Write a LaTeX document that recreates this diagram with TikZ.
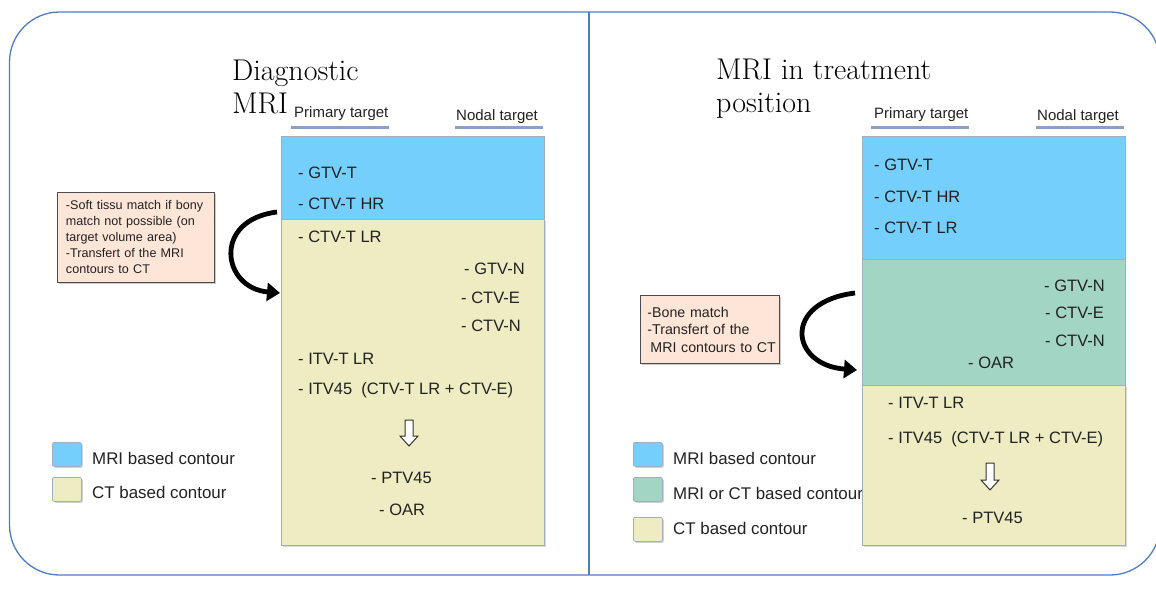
\documentclass[tikz,border=0pt]{standalone}
\usepackage{fontspec}
\newfontfamily\arial{Liberation Sans}
\usetikzlibrary{arrows.meta,shadows}
\definecolor{mriblue}{RGB}{117,207,252}
\definecolor{ctyellow}{RGB}{238,236,194}
\definecolor{mixgreen}{RGB}{163,213,196}
\definecolor{peach}{RGB}{253,230,216}
\definecolor{framecol}{RGB}{79,125,192}
\definecolor{regionborder}{RGB}{160,175,192}
\definecolor{ulcol}{RGB}{140,159,196}
\definecolor{txt}{RGB}{34,34,34}
\tikzset{
  region/.style={draw=regionborder, line width=0.8pt, anchor=north west, inner sep=0, minimum width=263pt},
  item/.style={anchor=base west, inner sep=0, text=txt, font=\arial\fontsize{16.5}{20}\selectfont},
  legtext/.style={anchor=west, inner sep=0, text=txt, font=\arial\fontsize{16.9}{20}\selectfont},
  head/.style={anchor=base west, inner sep=0, text=txt, font=\arial\fontsize{15}{18}\selectfont},
  title/.style={anchor=base west, inner sep=0, text=black, font=\fontsize{30}{33}\selectfont},
  uline/.style={draw=ulcol, line width=3pt},
  legsq/.style={draw=regionborder, line width=0.8pt, rounded corners=2pt, minimum width=29pt, minimum height=24pt, inner sep=0, anchor=north west, drop shadow={shadow xshift=1.5pt, shadow yshift=-1.5pt, opacity=0.35}},
  note/.style={draw=black!70, line width=0.9pt, fill=peach, anchor=north west, align=left, text=txt, inner sep=0, drop shadow={shadow xshift=2pt, shadow yshift=-2pt, opacity=0.4}},
  bigarrow/.style={line width=4.8pt, black, -{Triangle[length=13pt,width=18pt]}},
  hollow/.style={draw=black!80, line width=1pt, fill=white, line join=miter},
}
\newcommand\hollowarrow[3]{% x, ytop, ybottom
  \draw[hollow] (#1-4,#2) -- (#1+4,#2) -- (#1+4,#3-10) -- (#1+9,#3-10) -- (#1,#3) -- (#1-9,#3-10) -- (#1-4,#3-10) -- cycle;}
\begin{document}
\begin{tikzpicture}[x=1pt,y=-1pt]
\useasboundingbox (0,0) rectangle (1156,592);
\clip (0,0) rectangle (1156,592);
\fill[white] (0,0) rectangle (1156,592);
% frame
\draw[framecol, line width=1.3pt, rounded corners=50pt] (9.5,12) rectangle (1160,575);
\draw[framecol, line width=1.3pt] (589,12) -- (589,575);

% ================= LEFT PANEL =================
\node[title] (t1a) at (232,80) {Diagnostic};
\node[title] (t1b) at (232,113) {MRI};
\node[head] (lp) at (294,117) {Primary target};
\node[head] (ln) at (456,120) {Nodal target};
\draw[uline] (291,127) -- (389,127);
\draw[uline] (455,127) -- (543,127);

% legend
\node[legsq, fill=mriblue] (llb) at (52,442) {};
\node[legsq, fill=ctyellow] (lly) at (52,477) {};
\node[legtext] (llbt) at (92,458) {MRI based contour};
\node[legtext] (llyt) at (92,492) {CT based contour};

% regions
\node[region, fill=ctyellow, minimum height=326pt, drop shadow={shadow xshift=2pt, shadow yshift=-2pt, opacity=0.3}] (ly) at (281,219) {};
\node[region, fill=mriblue, minimum height=83pt] (lb) at (281,136) {};

\node[item] (l1) at (298,178) {- GTV-T};
\node[item] (l2) at (298,209) {- CTV-T HR};
\node[item] (l3) at (298,242) {- CTV-T LR};
\node[item] (l4) at (464,274) {- GTV-N};
\node[item] (l5) at (461,303) {- CTV-E};
\node[item] (l6) at (461,331) {- CTV-N};
\node[item] (l7) at (298,364) {- ITV-T LR};
\node[item] (l8) at (298,394) {- ITV45\ \ (CTV-T LR + CTV-E)};
\hollowarrow{409}{420}{446}
\node[item] (l9) at (371,483) {- PTV45};
\node[item] (l10) at (379,515) {- OAR};

% note
\node[note, minimum width=157pt, minimum height=90pt, text width=150pt, font=\arial\fontsize{12.6}{16}\selectfont] (lnote) at (57,192)
  {\hspace*{5pt}\parbox{148pt}{-Soft tissu match if bony\\match not possible (on\\target volume area)\\-Transfert of the MRI\\contours to CT}};
\coordinate (la1) at (277,212);
\coordinate (la2) at (280,293);
\draw[bigarrow] (la1) .. controls (212,220) and (222,288) .. (la2);

% ================= RIGHT PANEL =================
\node[title] (t2a) at (716,79) {MRI in treatment};
\node[title] (t2b) at (716,112) {position};
\node[head] (rp) at (874,118) {Primary target};
\node[head] (rn) at (1037,120) {Nodal target};
\draw[uline] (871,127) -- (969,127);
\draw[uline] (1036,127) -- (1124,127);

% legend
\node[legsq, fill=mriblue] (rlb) at (633,442) {};
\node[legsq, fill=mixgreen] (rlg) at (633,477) {};
\node[legsq, fill=ctyellow] (rly) at (633,517) {};
\node[legtext] (rlbt) at (673,458) {MRI based contour};
\node[legtext] (rlgt) at (673,493) {MRI or CT based contour};
\node[legtext] (rlyt) at (673,528) {CT based contour};

% regions
\node[region, fill=ctyellow, minimum height=160pt, drop shadow={shadow xshift=2pt, shadow yshift=-2pt, opacity=0.3}] (ry) at (862,385) {};
\node[region, fill=mixgreen, minimum height=126pt] (rg) at (862,259) {};
\node[region, fill=mriblue, minimum height=123pt] (rb) at (862,136) {};

\node[item] (r1) at (874,170) {- GTV-T};
\node[item] (r2) at (874,202) {- CTV-T HR};
\node[item] (r3) at (874,233) {- CTV-T LR};
\node[item] (r4) at (1044,291) {- GTV-N};
\node[item] (r5) at (1045,318) {- CTV-E};
\node[item] (r6) at (1045,346) {- CTV-N};
\node[item] (r7) at (968,368) {- OAR};
\node[item] (r8) at (888,408) {- ITV-T LR};
\node[item] (r9) at (888,443) {- ITV45\ \ (CTV-T LR + CTV-E)};
\hollowarrow{990}{463}{490}
\node[item] (r10) at (962,523) {- PTV45};

% note
\node[note, minimum width=139pt, minimum height=68pt, text width=133pt, font=\arial\fontsize{14.2}{17.5}\selectfont] (rnote) at (640,295)
  {\hspace*{4pt}\parbox{131pt}{-Bone match\\-Transfert of the\\\hspace*{3pt}MRI contours to CT}};
\coordinate (ra1) at (855,293);
\coordinate (ra2) at (857,370);
\draw[bigarrow] (ra1) .. controls (782,302) and (790,365) .. (ra2);
\end{tikzpicture}
\end{document}
